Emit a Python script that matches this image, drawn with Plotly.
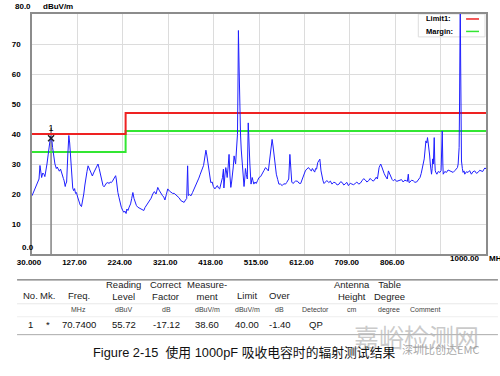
import plotly.graph_objects as go

# ---------------- data ----------------
freq_mhz = [
    30, 33, 36.4, 40, 43.4, 45, 47, 49, 50.6, 53, 55.5, 57.5, 59.8, 62, 64.7, 67, 69.7, 70.74, 72, 74,
    76.5, 79, 82, 84, 86, 88.5, 91, 93, 95, 97, 98.7, 101, 102, 104, 106.5, 108.7, 110.5, 112, 114, 115,
    117, 119, 121, 123, 125, 127.5, 130.6, 133, 135.7, 138, 140.6, 143, 145, 147.5, 149.8, 152, 154.8, 157, 159, 161.5,
    164, 167.6, 171, 173.5, 176, 179, 181.7, 184, 187, 189.5, 192, 195, 197, 199.5, 202, 204.4, 206.5, 208.7, 210, 211.5,
    213.5, 215.8, 218, 220.8, 223.5, 226.4, 228.5, 231, 232.7, 235, 237.5, 240.6, 243, 245.5, 248, 250.6, 253, 256, 259.5, 263,
    266, 268.9, 271.5, 274, 277.5, 281, 284.5, 288, 291.5, 295, 297, 298.7, 301.5, 304, 306.5, 309, 311.5, 314, 317, 320,
    323.5, 327, 330.5, 334, 337.5, 341, 344.5, 348, 351.5, 355, 358, 360.5, 362.5, 364, 367, 369.7, 373, 376.7, 380, 383.7,
    386.5, 389.5, 392, 394.3, 396.5, 398, 400, 401.6, 403.5, 405, 407, 408.6, 410.5, 412, 415, 417.5, 420.7, 423.5, 426, 428.5,
    431, 433, 435.6, 437, 439, 440, 442, 444, 446, 447, 449, 451, 453, 454.8, 456.5, 458, 460, 461.8, 463.5, 465,
    467, 469, 470, 471, 472.5, 474, 475.5, 477, 479, 481, 483, 484.5, 486, 488, 490, 492, 494, 495.5, 498, 500.5,
    502, 504, 506.5, 509, 512, 515, 518.5, 522, 525.5, 529, 532, 535, 537.5, 540, 543, 545, 547, 549.5, 552, 555,
    557.5, 561, 564.5, 568, 571.7, 574, 576, 578.5, 581, 583, 585, 587.5, 589.5, 593, 597, 600.5, 604, 606.5, 608.6, 611,
    614, 617.5, 621, 624, 627, 629, 631, 634, 636, 638, 640.5, 643, 645, 647.5, 650, 651.8, 654, 656, 660, 664,
    667.5, 671, 674.5, 678, 682, 686, 689.5, 693, 696, 699, 702.5, 706, 710, 713.5, 717, 720.5, 724, 728, 731.5, 735,
    738.5, 742, 745.5, 749, 752.5, 756, 759.5, 763, 765.5, 768, 770, 771.6, 773.5, 775, 777.5, 780, 782.5, 785, 787, 789,
    791.5, 794, 797, 799.5, 802, 805.5, 809, 812.8, 816, 819.5, 823, 826.5, 830, 832, 834, 835.5, 837.6, 841, 844.7, 848,
    851.8, 855.5, 859, 861.5, 863.8, 866, 868, 870, 871.6, 873.5, 875, 876.5, 878, 879.5, 881, 882.5, 883.6, 885, 886, 887.5,
    889.4, 890.5, 891.6, 893.5, 895, 898, 901.5, 904, 906.5, 907.8, 908.6, 912, 915.6, 919, 922.7, 926, 929.8, 933.5, 937, 939,
    940.5, 942, 942.6, 943.5, 944.3, 945, 945.8, 946.5, 947.6, 949.5, 951, 953, 954.6, 958, 961.7, 965, 968.8, 972, 975.9, 979.5,
    983, 986.5, 990, 993, 995.7, 998, 1000,
]
level_dbuvm = [
    19.4, 20.5, 21.7, 22.8, 23.8, 25, 29.5, 26.5, 25.5, 27, 26.6, 25.8, 27.7, 30, 33.3, 36, 39.3, 38.6, 38.8, 35.5,
    32, 30, 28.5, 29, 28.3, 27.6, 28.3, 27, 26, 25.2, 24.4, 22.5, 23.3, 24, 33, 39.5, 37, 33.2, 27, 23.3,
    22, 21.1, 21.8, 20.2, 20.5, 19, 17.2, 16.3, 15.8, 17.5, 20, 23, 25.5, 27.5, 29.4, 28.5, 27.7, 27, 26, 27,
    27.7, 28.8, 30, 28.5, 26.6, 24.5, 22.8, 22.4, 23.3, 23.7, 23.8, 23.5, 24, 23.8, 24.3, 25, 25.4, 26.1, 25, 22.8,
    20.5, 18.9, 17, 15.6, 14.6, 13.9, 14.3, 13.5, 15, 14.5, 15.6, 16.7, 18.5, 20.5, 18.5, 17.2, 16.2, 15.6, 15.3, 15,
    14.7, 14.5, 15.5, 16.1, 16.8, 17.8, 18.6, 20, 20.8, 20, 21.2, 22.2, 21.3, 20.5, 20, 19.4, 19, 18, 19.8, 21.7,
    21, 20.5, 20.2, 20.2, 19.8, 19.4, 18.7, 17.8, 17.5, 17.2, 18, 18.5, 29.4, 19.5, 19.8, 19.4, 20.5, 21.7, 22.8, 23.9,
    25.3, 26.6, 27.6, 28.3, 29.5, 31, 33, 34.6, 33, 31, 28.8, 26.6, 25, 23.8, 24, 22.5, 21.7, 22.3, 22.8, 22,
    21.7, 23, 24.4, 25.5, 28.3, 22, 26, 28.8, 27, 25.5, 29, 33.2, 26, 22.2, 24, 25.5, 29, 32.7, 31, 30,
    35, 39.9, 55, 74.5, 62, 47.6, 40, 35, 30, 26.6, 22.5, 25, 28.5, 26.5, 25, 43.7, 33, 30, 23.3, 25.5,
    24.5, 23.3, 24, 23.5, 24.5, 25.5, 25.8, 26.6, 27.8, 28.8, 28.2, 27.7, 31, 34.4, 38.2, 36, 33, 30, 26.6, 24.8,
    23.3, 23.3, 22.8, 23.4, 23.3, 23.8, 24.3, 25, 33.2, 26, 24, 23.5, 23.8, 24.3, 24.3, 23.6, 23.5, 24.6, 25.5, 26.4,
    27.7, 28.4, 28.8, 28.1, 27.7, 28.5, 28, 27.3, 28.5, 28.3, 30.5, 31.2, 31.6, 27.7, 25.5, 24.4, 23.5, 23.8, 24.5, 23.8,
    24.3, 23.3, 23.9, 23.8, 23.0, 23.3, 24.1, 23.8, 23.0, 23.3, 23.9, 22.8, 23.6, 23.3, 23.1, 23.5, 24, 23.3, 23.6, 24.4,
    25.1, 24.7, 24.0, 24.4, 25.2, 24.6, 24.3, 25, 25.6, 25, 27.5, 28.8, 29.5, 30, 29, 27.7, 26.8, 26, 25.6, 25,
    27.7, 26.8, 25.5, 24.8, 24.4, 24.9, 24.2, 24.4, 24.4, 24.8, 24, 24.6, 24.4, 24.2, 26.6, 23.8, 24, 24.6, 24.4, 23.9,
    24, 24.6, 25.5, 26.8, 28.3, 30, 31.7, 35, 37.7, 37, 38.8, 37, 35.5, 33, 30, 28, 26.6, 28.5, 31.7, 30,
    38.8, 31, 27.7, 27, 26.6, 27.5, 27.2, 27.8, 41, 30, 26.6, 27.5, 27.2, 28, 27.7, 27.3, 27.2, 27.8, 28.3, 28.8,
    30, 33, 35.5, 50, 70, 85, 65, 45, 31, 28.5, 27.2, 27.7, 26.6, 27.4, 27.2, 27.8, 26.6, 27.4, 27.7, 26.9,
    27.2, 27.9, 27.7, 27.5, 28.3, 28.7, 28.3,
]

limit_freq = [30, 230, 1000]
limit1_level = [40, 47, 47]
margin_level = [34, 41, 41]

marker_freq = [70.74]
marker_level = [38.60]

x_tickvals = [30, 127, 224, 321, 418, 515, 612, 709, 806, 903, 1000]
x_ticktext = ["30.000", "127.00", "224.00", "321.00", "418.00", "515.00",
              "612.00", "709.00", "806.00", "", ""]
y_tickvals = [10, 20, 30, 40, 50, 60, 70]
y_ticktext = ["10", "20", "30", "40", "50", "60", "70"]

header_text = ["No.", "Mk.", "Freq.", "Reading<br>Level", "Correct<br>Factor", "Measure-<br>ment",
               "Limit", "Over", "", "Antenna<br>Height", "Table<br>Degree", ""]
unit_text = ["", "", "MHz", "dBuV", "dB", "dBuV/m", "dBuV/m", "dB", "Detector", "cm", "degree", "Comment"]
row_text = ["1", "*", "70.7400", "55.72", "-17.12", "38.60", "40.00", "-1.40", "QP", "", "", ""]
col_px = [30, 48, 79, 124, 167, 208, 248, 281, 317, 353, 391, 427]

caption = "Figure 2-15  使用 1000pF 吸收电容时的辐射测试结果"

# ---------------- layout helpers (pixel -> paper) ----------------
L, R, T, B = 32, 12, 13, 122
W = 500 - L - R
H = 376 - T - B


def px(x):
    return (x - L) / W


def py(y):
    return (376 - B - y) / H


AX_FONT = dict(family="Liberation Sans, Arial, sans-serif", size=8, color="#000000", weight="bold")
TB_FONT = "Liberation Sans, Arial, sans-serif"

fig = go.Figure()

# marker vertical line
fig.add_trace(go.Scatter(x=[marker_freq[0], marker_freq[0]], y=[0, marker_level[0] + 3.5],
                         mode="lines", line=dict(color="#8a8a8a", width=1.6),
                         hoverinfo="skip", showlegend=False))
# limit & margin
fig.add_trace(go.Scatter(x=limit_freq, y=margin_level, mode="lines", line_shape="hv",
                         line=dict(color="#33e633", width=2), showlegend=False))
fig.add_trace(go.Scatter(x=limit_freq, y=limit1_level, mode="lines", line_shape="hv",
                         line=dict(color="#ee2222", width=2), showlegend=False))
# measured trace
fig.add_trace(go.Scatter(x=freq_mhz, y=level_dbuvm, mode="lines",
                         line=dict(color="#1f1fff", width=1), showlegend=False))
# marker
fig.add_trace(go.Scatter(x=marker_freq, y=marker_level, mode="markers+text",
                         marker=dict(symbol="x-thin", size=6, line=dict(color="#222222", width=1.5)),
                         text=["1"], textposition="top center",
                         textfont=dict(family=TB_FONT, size=9, color="#000000"), showlegend=False))

fig.update_xaxes(range=[30, 1000], tickvals=x_tickvals, ticktext=x_ticktext,
                 showgrid=True, gridcolor="#dcdcdc", gridwidth=1, zeroline=False,
                 showline=True, linecolor="#8c8c8c", linewidth=1.5, mirror=True,
                 ticks="", tickfont=AX_FONT, ticklabelshift=-3, ticklabelstandoff=0)
fig.update_yaxes(range=[0, 80], tickvals=y_tickvals, ticktext=y_ticktext,
                 showgrid=True, gridcolor="#dcdcdc", gridwidth=1, zeroline=False,
                 showline=True, linecolor="#8c8c8c", linewidth=1.5, mirror=True,
                 ticks="", tickfont=AX_FONT, ticklabelstandoff=8)

ann = []


def text(x, y, s, size=9, color="#111111", xanchor="center", weight="normal", family=TB_FONT):
    ann.append(dict(x=px(x), y=py(y), xref="paper", yref="paper", text=s, showarrow=False,
                    xanchor=xanchor, yanchor="middle",
                    font=dict(family=family, size=size, color=color, weight=weight)))


# axis extras
text(23, 5, "80.0", size=8, color="#000", weight="bold", family=AX_FONT["family"])
text(58, 5, "dBuV/m", size=8, color="#000", weight="bold", family=AX_FONT["family"])
text(28, 247, "0.0", size=8, color="#000", weight="bold", family=AX_FONT["family"])
text(466.5, 259, "1000.00", size=8, color="#000", weight="bold", family=AX_FONT["family"])
text(489, 259, "MHz", size=8, color="#000", weight="bold", family=AX_FONT["family"], xanchor="left")

# legend box contents
text(426, 18, "Limit1:", size=7.5, color="#000", weight="bold", family=AX_FONT["family"], xanchor="left")
text(426, 30.5, "Margin:", size=7.5, color="#000", weight="bold", family=AX_FONT["family"], xanchor="left")

# table
for i, c in enumerate(col_px):
    if header_text[i]:
        text(c, 291 if "<br>" in header_text[i] else 296, header_text[i], size=9.5, color="#222")
    if unit_text[i]:
        text(c, 310, unit_text[i], size=7, color="#444")
    if row_text[i]:
        text(c, 324.5, row_text[i], size=9.5, color="#111")

# caption and watermarks
text(418, 336, "嘉峪检测网", size=25, color="rgba(185,185,185,0.75)",
     family="Noto Sans CJK SC, sans-serif")
text(245, 353, caption, size=12.8, color="#111111",
     family="Liberation Sans, Noto Sans CJK SC, sans-serif")
text(442, 349, "深圳比创达EMC", size=11, color="rgba(150,150,150,0.85)",
     family="Noto Sans CJK SC, sans-serif")

shapes = [
    # legend box (between gridlines and traces)
    dict(type="rect", xref="paper", yref="paper", x0=px(420), x1=px(487), y0=py(36), y1=py(13),
         fillcolor="#ffffff", line=dict(color="#dddddd", width=1), layer="between"),
    dict(type="line", xref="paper", yref="paper", x0=px(468), x1=px(481), y0=py(18), y1=py(18),
         line=dict(color="#ee2222", width=1.5)),
    dict(type="line", xref="paper", yref="paper", x0=px(468), x1=px(481), y0=py(30.5), y1=py(30.5),
         line=dict(color="#33e633", width=1.5)),
    # table lines
    dict(type="line", xref="paper", yref="paper", x0=px(17), x1=px(500), y0=py(280), y1=py(280),
         line=dict(color="#555555", width=1)),
    dict(type="line", xref="paper", yref="paper", x0=px(17), x1=px(500), y0=py(304), y1=py(304),
         line=dict(color="#e8e8e8", width=1)),
    dict(type="line", xref="paper", yref="paper", x0=px(17), x1=px(500), y0=py(317), y1=py(317),
         line=dict(color="#eeeeee", width=1)),
    dict(type="line", xref="paper", yref="paper", x0=px(17), x1=px(500), y0=py(335), y1=py(335),
         line=dict(color="#aaaaaa", width=1)),
]

fig.update_layout(width=500, height=376, margin=dict(l=L, r=R, t=T, b=B),
                  paper_bgcolor="#ffffff", plot_bgcolor="#ffffff",
                  annotations=ann, shapes=shapes, showlegend=False)

fig.write_html("out.html", config={"displayModeBar": False},
               post_script="document.body.style.margin='0';document.body.style.overflow='hidden';")
